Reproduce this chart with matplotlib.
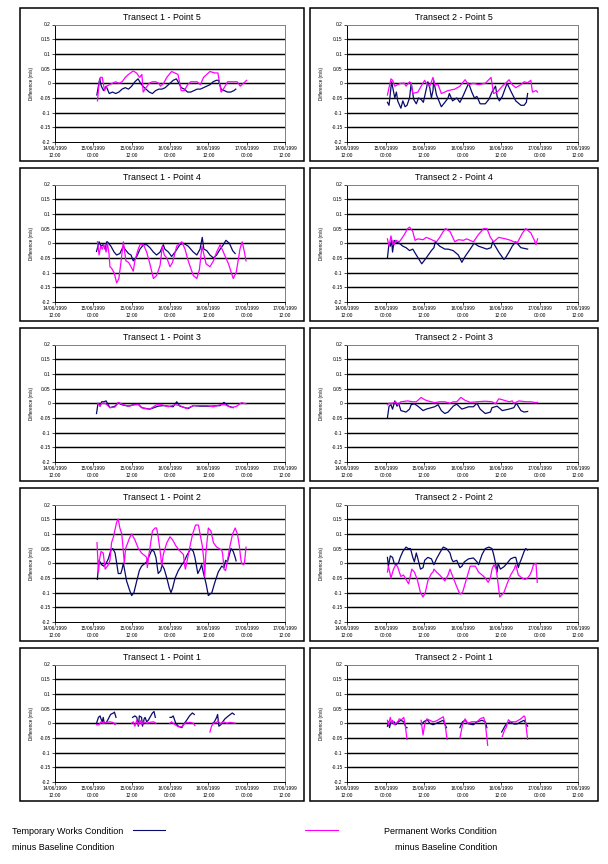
import numpy as np
import matplotlib
matplotlib.use("Agg")
import matplotlib.pyplot as plt
from matplotlib.lines import Line2D
from matplotlib.patches import Rectangle

plt.rcParams['font.family'] = ['Liberation Sans', 'DejaVu Sans']

# ---------------- data (time in hours after 14/06/1999 12:00, value in m/s) ----------------
x_tick_hours = [0, 12, 24, 36, 48, 60, 72]
x_tick_labels = ["14/06/1999\n12:00", "15/06/1999\n00:00", "15/06/1999\n12:00",
                 "16/06/1999\n00:00", "16/06/1999\n12:00", "17/06/1999\n00:00",
                 "17/06/1999\n12:00"]
y_ticks = [0.2, 0.15, 0.1, 0.05, 0, -0.05, -0.1, -0.15, -0.2]
y_tick_labels = ["0.2", "0.15", "0.1", "0.05", "0", "-0.05", "-0.1", "-0.15", "-0.2"]

GAP = (None, None)

t1p5_temp = [(13.1,-0.04),(14.0,0.015),(14.5,-0.01),(15.2,-0.025),(16.0,-0.01),(17.0,-0.035),(18.0,-0.03),
             (19.0,-0.035),(20.0,-0.03),(21.0,-0.02),(22.0,-0.015),(23.0,-0.02),(24.0,-0.01),(25.0,0.005),
             (26.0,0.015),(26.8,0.0),(27.5,-0.01),(28.5,-0.02),(29.5,-0.03),(30.5,-0.035),(31.5,-0.025),
             (32.5,-0.02),(33.5,-0.02),(34.5,-0.015),(35.5,-0.005),(37.0,0.01),(38.0,0.015),(38.8,0.0),
             (39.5,-0.015),(40.5,-0.02),(41.5,-0.03),(42.5,-0.03),(43.5,-0.025),(44.5,-0.02),(45.5,-0.02),
             (46.5,-0.015),(47.5,-0.01),(48.5,-0.005),(49.5,0.005),(50.5,0.01),(51.2,0.01),(52.0,-0.02),
             (53.0,-0.025),(54.0,-0.03),(55.0,-0.03),(56.0,-0.025),(56.6,-0.02)]
t1p5_perm = [(13.3,-0.06),(13.8,0.0),(14.2,0.02),(14.8,0.02),(15.5,-0.025),(16.2,-0.01),(17.0,-0.005),(18.0,0.0),
             (19.0,0.005),(20.0,0.0),(21.0,0.005),(22.0,0.02),(23.0,0.03),(24.5,0.042),(25.5,0.035),(26.5,0.02),
             (27.2,0.03),(27.6,-0.03),(28.5,-0.015),(29.5,0.0),(30.5,0.005),(31.5,0.005),(32.5,0.0),(33.0,-0.01),
             (34.0,0.0),(35.0,0.02),(36.5,0.04),(37.5,0.035),(38.5,0.03),(39.5,-0.025),(40.5,-0.025),(41.5,-0.005),
             (42.5,0.005),(43.5,0.005),(44.5,0.005),(45.5,-0.005),(46.5,0.02),(47.5,0.03),(48.5,0.04),(50.0,0.035),
             (51.0,0.035),(52.0,-0.03),(53.0,-0.015),(54.0,0.005),(55.0,0.005),(56.0,0.005),(57.0,0.005),
             (58.0,-0.01),(59.0,0.0),(60.0,0.01)]

t2p5_temp = [(12.6,-0.065),(13.1,-0.075),(13.9,0.005),(14.9,-0.05),(15.4,-0.03),(15.8,-0.06),(16.8,-0.085),
             (17.4,-0.06),(18.1,-0.08),(18.7,-0.075),(19.5,-0.05),(20.0,0.0),(20.8,-0.055),(21.6,-0.07),
             (22.3,-0.05),(23.1,-0.055),(23.8,-0.065),(24.4,-0.035),(25.2,0.005),(25.8,-0.015),(26.3,-0.05),
             (26.8,-0.025),(27.0,0.01),(27.9,-0.04),(29.4,-0.08),(30.5,-0.065),(31.5,-0.05),(31.9,-0.035),
             (32.9,-0.06),(34.2,-0.05),(35.2,-0.065),(36.3,-0.04),(37.3,-0.015),(37.9,0.0),(38.9,-0.03),
             (39.7,-0.05),(40.5,-0.045),(41.5,-0.07),(43.1,-0.07),(44.2,-0.055),(45.2,-0.03),(46.3,-0.01),
             (46.8,-0.045),(47.5,-0.06),(48.4,-0.045),(49.9,0.0),(51.2,-0.03),(52.6,-0.06),(54.2,-0.075),
             (55.2,-0.075),(55.9,-0.065),(56.3,-0.035)]
t2p5_perm = [(12.6,-0.04),(13.7,0.015),(14.2,0.01),(14.9,-0.01),(15.8,-0.005),(16.8,0.0),(17.9,0.0),(18.4,-0.01),
             (19.5,0.005),(20.0,0.0),(20.5,-0.035),(22.1,-0.03),(23.1,-0.01),(24.2,0.01),(24.7,0.0),(25.8,-0.01),
             (26.8,0.02),(27.3,-0.005),(28.4,-0.005),(29.4,-0.035),(31.5,-0.025),(33.6,-0.02),(35.2,-0.01),
             (36.8,0.012),(37.9,-0.005),(39.4,0.0),(41.0,-0.005),(43.1,0.0),(44.9,0.02),(45.7,-0.035),
             (46.8,-0.03),(48.4,-0.01),(49.9,0.005),(50.5,0.012),(51.5,-0.005),(52.6,-0.015),(54.2,-0.005),
             (55.2,0.005),(56.3,0.002),(57.3,0.01),(57.8,-0.03),(58.9,-0.025),(59.4,-0.03)]

t1p4_temp = [(13.0,-0.028),(13.8,0.005),(14.4,-0.01),(15.1,-0.005),(15.7,-0.02),(16.2,0.005),(16.4,0.005),
             (17.5,-0.01),(18.5,-0.03),(19.3,-0.04),(20.3,-0.035),(21.4,-0.01),(21.9,-0.02),(23.0,-0.035),
             (23.8,-0.04),(24.5,-0.06),(25.6,-0.045),(26.6,-0.02),(27.7,-0.005),(28.7,-0.005),(29.7,-0.015),
             (30.8,-0.03),(31.8,-0.04),(32.9,-0.03),(33.9,-0.005),(34.4,-0.02),(35.5,-0.03),(36.5,-0.045),
             (37.6,-0.03),(39.1,-0.005),(40.2,0.0),(41.7,-0.01),(43.3,-0.03),(44.4,-0.04),(45.4,-0.02),
             (46.1,0.02),(46.6,-0.02),(47.5,-0.025),(48.5,-0.04),(49.6,-0.05),(50.6,-0.04),(51.7,-0.02),
             (52.7,-0.005),(53.5,0.01),(54.6,0.0),(55.6,-0.025),(56.4,-0.035)]
t1p4_perm = [(13.3,0.005),(13.8,-0.04),(14.3,-0.01),(14.8,-0.02),(15.3,-0.005),(16.0,-0.03),(16.4,0.0),
             (16.9,-0.035),(17.2,-0.08),(17.7,-0.085),(18.5,-0.1),(19.3,-0.135),(20.0,-0.12),(20.7,-0.06),
             (21.4,0.005),(21.7,-0.02),(22.2,-0.06),(23.0,-0.065),(23.8,-0.08),(24.5,-0.095),(25.0,-0.06),
             (25.9,-0.025),(26.6,-0.005),(27.7,-0.005),(28.7,-0.03),(29.7,-0.07),(30.8,-0.12),(31.8,-0.11),
             (32.9,-0.075),(33.6,-0.01),(34.2,-0.04),(35.0,-0.05),(36.0,-0.08),(36.8,-0.065),(38.1,-0.01),
             (39.7,0.005),(40.7,-0.02),(41.7,-0.06),(43.3,-0.11),(44.4,-0.12),(45.2,-0.09),(46.0,-0.01),
             (47.3,-0.07),(48.5,-0.08),(49.6,-0.06),(50.6,-0.03),(51.7,-0.005),(52.7,-0.03),(54.3,-0.07),
             (55.8,-0.12),(56.7,-0.1),(57.4,-0.055),(57.9,-0.02),(58.6,0.005),(59.3,-0.03),(59.8,-0.06)]

t2p4_temp = [(12.6,-0.05),(13.1,0.0),(13.5,-0.01),(13.9,0.01),(14.2,-0.03),(14.7,0.01),(15.2,0.005),(16.3,0.0),
             (17.4,-0.01),(18.4,-0.015),(19.5,-0.025),(20.5,-0.02),(21.6,-0.04),(23.3,-0.07),(24.7,-0.05),
             (26.3,-0.025),(27.1,-0.015),(27.5,0.005),(28.9,-0.01),(30.5,-0.02),(31.5,-0.02),(33.1,-0.025),
             (34.7,-0.04),(35.8,-0.065),(36.8,-0.045),(38.4,-0.02),(39.6,0.0),(41.0,-0.01),(43.6,-0.02),
             (44.9,-0.015),(45.4,0.005),(47.3,-0.03),(48.9,-0.055),(49.4,-0.05),(50.5,-0.03),(51.5,-0.01),
             (52.6,0.005),(54.2,-0.015),(56.3,-0.02)]
t2p4_perm = [(12.6,0.015),(13.1,-0.01),(13.7,0.025),(14.2,0.0),(14.7,-0.005),(15.2,0.01),(16.3,0.005),
             (17.0,0.015),(17.9,0.03),(18.9,0.05),(19.5,0.055),(20.5,0.04),(21.2,0.01),(22.1,0.015),
             (23.7,0.012),(24.7,0.02),(25.8,0.015),(26.8,0.01),(27.9,0.005),(28.9,0.02),(30.0,0.04),
             (30.7,0.05),(32.1,0.04),(33.6,0.005),(34.7,0.012),(36.3,0.01),(37.3,0.015),(39.4,0.005),
             (41.0,0.03),(42.6,0.05),(43.6,0.05),(44.7,0.02),(45.7,0.005),(47.3,0.02),(49.4,0.015),(51.0,0.01),
             (52.0,0.005),(53.1,0.002),(54.7,0.035),(55.7,0.05),(57.3,0.035),(58.4,0.01),(58.9,-0.005),
             (59.4,0.015)]

t1p3_temp = [(13.0,-0.035),(13.4,-0.005),(13.8,0.0),(14.1,-0.01),(14.6,0.005),(15.3,0.005),(16.0,0.008),
             (16.4,0.0),(17.2,-0.015),(18.8,-0.01),(19.8,0.002),(20.9,-0.005),(23.0,-0.01),(24.5,-0.005),
             (26.1,-0.003),(27.1,-0.015),(29.7,-0.02),(32.3,-0.01),(33.9,-0.008),(35.5,-0.01),(37.0,-0.012),
             (38.1,0.005),(39.1,-0.01),(41.7,-0.018),(43.3,-0.008),(45.4,-0.01),(48.5,-0.01),(51.7,-0.008),
             (52.9,0.003),(54.3,-0.01),(55.8,-0.015)]
t1p3_perm = [(13.4,0.0),(14.1,-0.01),(14.6,0.0),(15.7,0.0),(17.2,-0.015),(18.8,-0.013),(19.8,0.003),
             (21.4,-0.005),(23.0,-0.01),(25.0,-0.005),(26.1,-0.005),(27.7,-0.018),(29.7,-0.02),(31.8,-0.005),
             (33.4,-0.005),(35.5,-0.012),(37.6,-0.005),(39.1,-0.008),(41.2,-0.018),(43.3,-0.008),(47.5,-0.008),
             (49.6,-0.012),(51.7,-0.005),(53.2,-0.005),(55.3,-0.015),(56.9,-0.01),(58.4,0.002),(59.8,-0.002)]

t2p3_temp = [(12.6,-0.05),(13.1,-0.01),(13.7,-0.005),(14.2,-0.02),(14.9,0.008),(15.6,-0.01),(16.1,0.0),
             (16.8,-0.025),(18.4,-0.03),(19.5,-0.02),(20.0,-0.005),(21.0,-0.002),(22.1,-0.01),(23.7,-0.025),
             (24.7,-0.02),(26.3,-0.015),(27.3,-0.012),(28.4,-0.005),(29.4,-0.025),(30.5,-0.035),(31.5,-0.03),
             (33.1,-0.01),(34.2,-0.003),(35.8,-0.02),(37.9,-0.012),(39.4,-0.012),(40.5,0.0),(41.5,-0.02),
             (43.1,-0.035),(44.7,-0.03),(45.2,-0.015),(46.8,-0.01),(48.4,-0.025),(50.5,-0.02),(52.0,-0.015),
             (52.8,0.0),(54.2,-0.025),(55.2,-0.03),(56.3,-0.028)]
t2p3_perm = [(12.6,-0.005),(13.1,0.0),(14.2,0.0),(15.2,0.005),(15.8,-0.005),(16.8,0.005),(18.9,0.008),
             (20.5,0.005),(21.6,0.005),(23.1,0.02),(24.2,0.012),(25.2,0.008),(27.3,0.002),(28.9,0.005),
             (30.5,0.005),(32.1,0.0),(33.1,0.005),(34.2,0.005),(35.5,0.02),(36.8,0.01),(38.4,0.003),
             (40.5,0.005),(43.1,0.007),(45.2,0.005),(46.3,-0.002),(47.3,0.015),(48.4,0.012),(50.5,0.005),
             (51.5,0.008),(52.0,0.0),(53.6,0.008),(55.7,0.005),(57.3,0.005),(58.9,0.002),(59.4,0.003)]

t1p2_temp = [(13.25,-0.055),(13.8,0.01),(14.6,-0.005),(15.3,-0.01),(16.0,0.0),(16.7,0.015),(17.5,0.045),
             (18.1,0.05),(18.8,0.035),(19.1,0.015),(19.8,-0.035),(20.6,-0.035),(21.0,-0.02),(21.4,0.0),
             (21.9,-0.03),(22.4,-0.06),(23.3,-0.09),(24.0,-0.11),(24.7,-0.1),(25.6,-0.06),(26.4,-0.025),
             (27.1,-0.01),(28.2,0.0),(28.7,0.005),(29.5,0.025),(30.3,0.045),(31.0,0.04),(31.6,0.02),
             (32.3,-0.035),(33.1,-0.025),(33.5,-0.005),(34.2,-0.02),(35.0,-0.05),(35.8,-0.085),(36.3,-0.1),
             (36.8,-0.085),(37.6,-0.05),(38.6,-0.025),(39.7,-0.005),(40.4,0.005),(41.2,0.025),(42.5,0.05),
             (43.3,0.04),(43.8,0.02),(44.7,-0.035),(45.4,-0.02),(45.9,-0.005),(46.4,-0.03),(47.3,-0.07),
             (48.0,-0.11),(49.1,-0.1),(49.9,-0.07),(51.1,-0.03),(52.2,-0.01),(52.9,-0.015),(53.4,0.01),
             (54.0,0.005),(54.6,0.03),(55.1,0.05),(55.8,0.04),(56.4,0.02),(56.7,0.008)]
t1p2_perm = [(13.15,0.07),(13.6,-0.03),(13.9,0.01),(14.4,0.04),(15.1,0.035),(15.7,-0.02),(16.4,-0.01),
             (16.7,-0.005),(17.2,0.01),(17.7,0.07),(18.3,0.09),(19.3,0.14),(19.8,0.15),(20.3,0.12),
             (20.9,0.1),(21.4,0.04),(21.7,0.0),(22.1,0.05),(23.3,0.085),(24.0,0.1),(25.0,0.08),(26.1,0.05),
             (27.1,0.035),(28.2,0.025),(28.7,0.02),(28.9,-0.015),(29.4,0.03),(29.7,0.05),(30.5,0.11),
             (31.3,0.12),(31.8,0.12),(32.3,0.09),(33.1,0.025),(33.4,-0.01),(33.9,0.03),(35.0,0.07),(36.0,0.09),
             (36.8,0.08),(37.8,0.06),(38.8,0.045),(40.2,0.03),(40.5,0.0),(40.8,-0.02),(41.2,0.0),(42.1,0.05),
             (43.1,0.1),(44.0,0.13),(44.9,0.13),(45.4,0.1),(46.1,0.06),(46.6,0.01),(46.85,-0.045),(47.2,0.03),
             (48.0,0.12),(48.8,0.11),(49.6,0.07),(50.6,0.055),(52.2,0.045),(52.5,0.03),(52.9,-0.02),
             (53.4,-0.025),(54.0,0.01),(54.8,0.06),(55.6,0.1),(56.4,0.12),(57.1,0.1),(57.7,0.06),(58.1,0.02),
             (58.4,0.0),(59.0,-0.005),(59.3,0.0),(59.8,0.055)]

t2p2_temp = [(12.6,0.02),(12.9,-0.01),(13.5,0.025),(14.2,0.02),(14.7,0.0),(15.2,-0.005),(16.0,0.0),(16.6,0.02),
             (17.4,0.04),(18.4,0.055),(19.1,0.05),(19.8,0.05),(20.5,0.02),(21.0,0.005),(21.6,0.035),
             (22.1,0.015),(22.9,-0.02),(23.7,-0.015),(24.2,0.01),(25.2,0.02),(26.3,0.015),(27.1,-0.005),
             (27.9,0.015),(28.9,0.035),(30.0,0.055),(31.0,0.05),(32.1,0.035),(32.6,0.015),(33.1,0.005),
             (34.2,0.01),(35.2,-0.015),(35.8,-0.01),(36.6,0.005),(37.9,0.015),(39.4,0.018),(40.5,0.005),
             (41.0,-0.005),(42.1,0.03),(43.1,0.05),(44.2,0.055),(45.2,0.05),(45.7,0.03),(46.3,0.0),
             (46.8,-0.03),(47.1,0.0),(47.8,-0.02),(48.9,-0.012),(49.9,0.0),(51.0,0.015),(52.1,0.02),
             (52.6,0.02),(53.4,-0.015),(53.8,0.0),(54.2,0.01),(55.2,0.04),(55.7,0.05),(56.3,0.045)]
t2p2_perm = [(12.6,-0.03),(12.9,-0.01),(13.7,-0.05),(14.5,-0.02),(15.2,-0.005),(15.8,-0.012),(16.3,-0.03),
             (16.8,-0.045),(17.6,-0.04),(18.4,-0.055),(19.2,-0.07),(19.8,-0.04),(20.2,-0.02),(21.0,-0.03),
             (21.9,-0.055),(22.9,-0.1),(23.7,-0.115),(24.4,-0.1),(25.2,-0.06),(26.3,-0.035),(26.8,-0.03),
             (27.1,-0.02),(27.9,-0.03),(28.9,-0.04),(29.7,-0.05),(30.5,-0.06),(31.5,-0.04),(32.1,-0.02),
             (32.6,-0.035),(34.2,-0.08),(35.2,-0.105),(36.0,-0.1),(36.8,-0.07),(37.6,-0.04),(38.4,-0.01),
             (40.0,-0.01),(41.0,-0.03),(42.1,-0.04),(43.1,-0.05),(44.0,-0.065),(44.7,-0.05),(45.2,-0.02),
             (45.8,-0.005),(46.5,-0.02),(47.1,-0.07),(47.6,-0.115),(48.9,-0.1),(49.9,-0.07),(51.0,-0.04),
             (52.1,-0.02),(52.6,-0.005),(53.4,-0.04),(54.5,-0.05),(55.5,-0.055),(56.3,-0.05),(57.0,-0.04),
             (57.6,-0.025),(58.1,-0.005),(58.9,0.0),(59.3,-0.065)]

t1p1_temp = [(13.0,0.0),(13.6,0.02),(14.1,0.025),(14.4,0.015),(14.8,0.005),(15.1,0.02),(15.4,0.0),(15.9,0.0),
             (16.2,0.005),(16.7,0.015),(17.4,0.03),(18.3,0.035),(18.6,0.038),(19.1,0.02), GAP,
             (24.3,0.02),(25.0,0.025),(25.6,0.02),(26.1,-0.01),(26.4,0.025),(27.1,0.02),(27.4,-0.01),
             (27.9,0.015),(28.2,0.02),(28.7,0.005),(29.2,0.01),(30.5,0.035),(31.0,0.04),(31.4,0.02), GAP,
             (36.0,0.02),(36.5,0.02),(37.0,0.025),(37.8,0.0),(38.6,-0.01),(39.7,-0.015),(40.2,-0.005),
             (41.2,0.01),(42.1,0.025),(43.0,0.035),(43.6,0.03), GAP,
             (49.4,0.0),(49.9,0.005),(50.6,0.02),(50.9,0.03),(51.3,-0.01),(51.9,-0.005),(52.5,0.005),
             (53.2,0.015),(54.3,0.025),(55.5,0.035),(56.1,0.03)]
t1p1_perm = [(13.0,-0.005),(13.8,-0.005),(14.4,0.005),(15.1,0.0),(16.2,0.003),(17.2,0.005),(18.3,0.002),
             (18.8,-0.005),(19.1,0.0), GAP,
             (24.0,0.0),(24.5,0.005),(25.0,-0.01),(25.6,0.01),(26.1,-0.005),(26.6,0.01),(27.1,-0.005),
             (27.7,0.005),(28.7,0.0),(29.7,0.003),(30.8,0.005),(31.6,0.0), GAP,
             (36.0,0.0),(36.5,0.005),(37.6,-0.005),(38.6,-0.012),(39.7,-0.012),(40.2,-0.005),(41.0,0.002),
             (42.3,0.003),(43.3,0.0),(43.8,-0.008), GAP,
             (48.5,-0.03),(49.0,-0.01),(49.6,0.0),(50.6,0.003),(51.1,0.008),(51.7,-0.002),(52.7,0.005),
             (53.8,0.0),(54.8,0.003),(56.4,0.0)]

t2p1_temp = [(12.6,-0.01),(12.9,0.005),(13.25,-0.015),(13.7,0.005),(14.2,0.0),(14.7,0.005),(15.2,-0.005),
             (16.0,0.005),(16.8,0.01),(17.7,0.005),(18.4,-0.015),(18.7,-0.015), GAP,
             (23.1,-0.005),(23.9,0.005),(24.7,0.01),(25.2,0.01),(25.8,0.0),(26.8,-0.005),(27.9,0.0),
             (28.9,0.005),(30.0,0.01),(31.0,-0.015), GAP,
             (35.2,-0.015),(36.0,0.005),(36.8,0.01),(37.9,-0.002),(39.4,-0.005),(40.5,0.005),(42.1,0.01),
             (43.1,0.005),(43.6,-0.015), GAP,
             (48.2,-0.03),(49.2,-0.01),(49.9,0.0),(51.0,0.005),(52.1,-0.003),(53.1,-0.002),(54.2,0.005),
             (55.2,0.01),(56.3,-0.01)]
t2p1_perm = [(12.6,0.01),(12.9,-0.005),(13.5,0.02),(13.9,0.0),(14.2,0.01),(14.7,-0.005),(15.2,0.0),
             (15.8,0.005),(16.3,0.015),(17.0,0.012),(17.7,0.02),(18.2,-0.01),(18.7,-0.055), GAP,
             (23.1,0.01),(23.7,-0.04),(24.2,-0.005),(24.9,0.015),(25.8,0.01),(26.8,0.005),(27.9,0.008),
             (28.9,0.015),(30.0,0.022),(30.5,0.0),(31.2,-0.055), GAP,
             (35.2,-0.05),(36.0,-0.005),(36.8,0.015),(37.6,0.0),(38.9,0.005),(40.5,0.005),(41.5,0.015),
             (42.6,0.02),(43.1,0.0),(43.85,-0.075), GAP,
             (48.4,-0.045),(49.2,-0.02),(49.6,-0.015),(50.3,0.012),(51.0,0.005),(52.6,0.005),(54.2,0.015),
             (55.2,0.025),(55.5,0.02),(56.3,-0.055)]

panels = [
    ("Transect 1 - Point 5", t1p5_temp, t1p5_perm), ("Transect 2 - Point 5", t2p5_temp, t2p5_perm),
    ("Transect 1 - Point 4", t1p4_temp, t1p4_perm), ("Transect 2 - Point 4", t2p4_temp, t2p4_perm),
    ("Transect 1 - Point 3", t1p3_temp, t1p3_perm), ("Transect 2 - Point 3", t2p3_temp, t2p3_perm),
    ("Transect 1 - Point 2", t1p2_temp, t1p2_perm), ("Transect 2 - Point 2", t2p2_temp, t2p2_perm),
    ("Transect 1 - Point 1", t1p1_temp, t1p1_perm), ("Transect 2 - Point 1", t2p1_temp, t2p1_perm),
]

TEMP_COLOR = "#0a0a6e"
PERM_COLOR = "#ff00ff"

# ---------------- layout ----------------
W, H = 608, 864
fig = plt.figure(figsize=(W / 100, H / 100), dpi=100)


def fx(px):
    return px / W


def fy(py):
    return 1 - py / H


box_x = [(20, 304), (310, 598)]
axes_x = [(55, 285), (347, 578)]
ylabel_x = [31, 322]

for i, (title, temp, perm) in enumerate(panels):
    r, c = divmod(i, 2)
    top = 8 + 160 * r
    bot = top + 153
    bx0, bx1 = box_x[c]
    fig.add_artist(Rectangle((fx(bx0), fy(bot)), fx(bx1 - bx0), (bot - top) / H,
                             transform=fig.transFigure, fill=False, edgecolor="black", lw=1.1))
    ax0, ax1 = axes_x[c]
    at, ab = top + 16.5, top + 134
    ax = fig.add_axes([fx(ax0), fy(ab), fx(ax1 - ax0), (ab - at) / H])
    ax.set_xlim(0, 72)
    ax.set_ylim(-0.2, 0.2)
    for yv in y_ticks[1:-1]:
        ax.axhline(yv, color="black", lw=1.05, zorder=1)
    tv = np.array(temp, dtype=float)
    pv = np.array(perm, dtype=float)
    ax.plot(tv[:, 0], tv[:, 1], color=TEMP_COLOR, lw=0.9, zorder=3)
    ax.plot(pv[:, 0], pv[:, 1], color=PERM_COLOR, lw=0.9, zorder=4)
    ax.set_yticks(y_ticks)
    ax.set_yticklabels(y_tick_labels, fontsize=3.5)
    ax.set_xticks(x_tick_hours)
    ax.set_xticklabels(x_tick_labels, fontsize=3.5, linespacing=1.5)
    ax.tick_params(axis="both", length=2, width=0.5, pad=1.2, color="black")
    ax.spines["top"].set_color("#808080")
    ax.spines["right"].set_color("#808080")
    ax.spines["top"].set_linewidth(0.7)
    ax.spines["right"].set_linewidth(0.7)
    ax.spines["left"].set_linewidth(0.7)
    ax.spines["bottom"].set_linewidth(0.7)
    fig.text(fx((bx0 + bx1) / 2), fy(top + 9.5), title, ha="center", va="center", fontsize=6.4)
    fig.text(fx(ylabel_x[c]), fy((at + ab) / 2), "Difference (m/s)", rotation=90,
             ha="center", va="center", fontsize=3.3)

# ---------------- legend ----------------
fig.text(fx(12), fy(831.5), "Temporary Works Condition", ha="left", va="center", fontsize=6.5)
fig.text(fx(12), fy(847), "minus Baseline Condition", ha="left", va="center", fontsize=6.5)
fig.add_artist(Line2D([fx(133), fx(165)], [fy(829.5), fy(829.5)], transform=fig.transFigure,
                      color=TEMP_COLOR, lw=0.8))
fig.add_artist(Line2D([fx(305), fx(338)], [fy(829.5), fy(829.5)], transform=fig.transFigure,
                      color=PERM_COLOR, lw=0.8))
fig.text(fx(497), fy(831.5), "Permanent Works Condition", ha="right", va="center", fontsize=6.5)
fig.text(fx(497), fy(847), "minus Baseline Condition", ha="right", va="center", fontsize=6.5)

fig.savefig("out.png", dpi=100)
